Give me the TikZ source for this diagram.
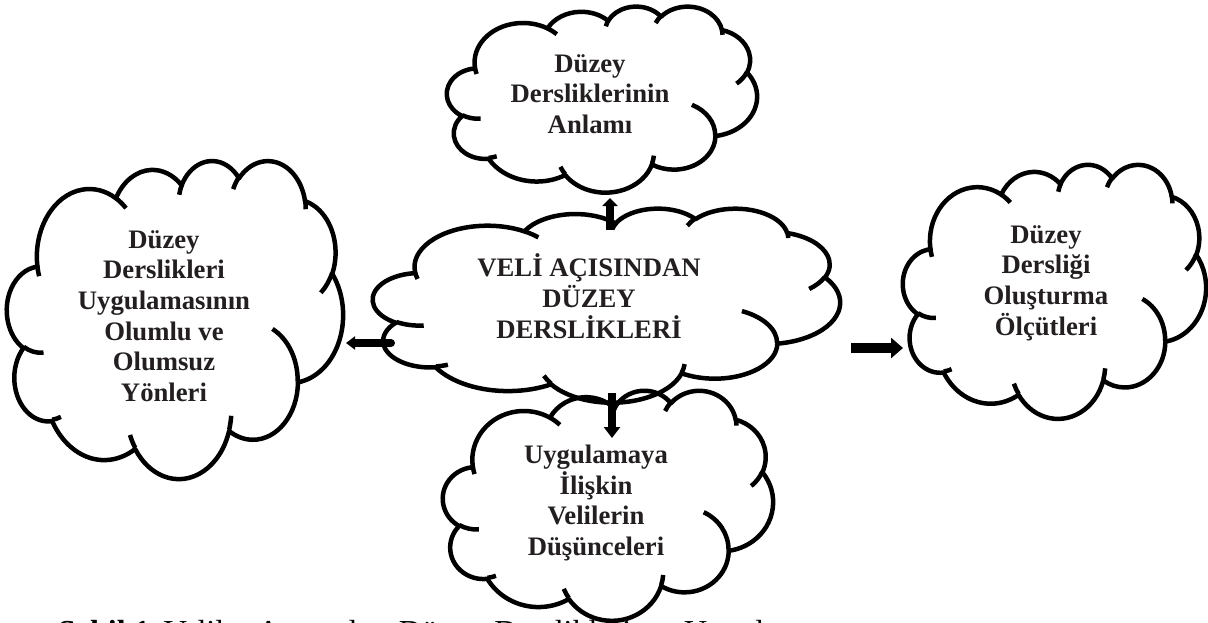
\documentclass[tikz,border=0pt]{standalone}
\usepackage{fontspec}
\setmainfont{Liberation Serif}
\usetikzlibrary{arrows.meta}
\definecolor{txt}{RGB}{35,31,32}

% arcTo of an Office cloud: x radius, y radius, visual start angle, visual sweep
\newcommand\cloudarc[4]{arc[x radius=#1, y radius=#2,
  start angle={atan2((#1)*sin(#3),(#2)*cos(#3))},
  delta angle={mod(atan2((#1)*sin((#3)+(#4)),(#2)*cos((#3)+(#4)))-atan2((#1)*sin(#3),(#2)*cos(#3))+720,360)}]}

% Office cloud in a box x0 y0 x1 y1 (picture pixels, y downwards)
\newcommand\officecloud[5]{%
  \pgfmathsetmacro\cwx{((#4)-(#2))/432}%
  \pgfmathsetmacro\cwy{((#5)-(#3))/432}%
  \begin{scope}[xshift=#2pt, yshift=-#3pt, x=\cwx pt, y=-\cwy pt]
    \coordinate (#1) at (216,216);
    \draw[cloudline] (39.00,143.70)
      \cloudarc{67.53}{91.90}{-190.4875}{123.7805}
      \cloudarc{53.33}{72.67}{-144.1024}{89.9452}
      \cloudarc{43.65}{59.45}{-145.8079}{99.7230}
      \cloudarc{48.57}{65.95}{-130.9861}{117.2417}
      \cloudarc{53.33}{72.73}{-78.7089}{109.0269}
      \cloudarc{67.75}{92.20}{-46.2673}{130.2690}
      \cloudarc{57.85}{78.67}{0.6250}{114.0333}
      \cloudarc{67.52}{92.15}{22.4516}{115.1726}
      \cloudarc{77.20}{105.43}{66.2426}{75.7110}
      \cloudarc{43.60}{59.18}{-274.9421}{146.7356}
      \cloudarc{43.45}{59.45}{-246.8285}{152.5189}
      -- cycle;
    \draw[cloudline]
      (46.93,261.77) \cloudarc{43.45}{59.45}{86.742}{26.4295}
      (69.28,348.99) \cloudarc{43.60}{59.18}{73.6105}{11.4475}
      (164.78,390.90) \cloudarc{67.52}{92.15}{137.6242}{14.0811}
      (288.27,347.51) \cloudarc{67.52}{92.15}{6.4533}{15.9984}
      (341.29,229.54) \cloudarc{57.85}{78.67}{-70.2924}{70.9174}
      (417.98,153.54) \cloudarc{53.33}{72.73}{30.3180}{27.7515}
      (383.24,54.26) \cloudarc{48.57}{65.95}{-13.7443}{14.8589}
      (290.78,39.52) \cloudarc{48.57}{65.95}{-149.1815}{18.1954}
      (221.41,47.20) \cloudarc{43.65}{59.45}{-163.4943}{17.6864}
      (140.00,51.92) \cloudarc{67.53}{91.90}{-66.7070}{12.3194}
      (41.27,157.89) \cloudarc{67.53}{91.90}{157.6544}{11.8582};
  \end{scope}%
}

\tikzset{
  cloudline/.style={line width=4.5pt, line join=round, draw=black},
  cloudtext/.style={font=\fontsize{26.7}{30.7}\selectfont\bfseries, align=center, text=txt, inner sep=0pt},
  captiontext/.style={font=\fontsize{32}{38}\selectfont, text=black, inner sep=0pt, anchor=base west},
  blockarrow/.style={draw=black, line cap=butt}
}

\begin{document}
\begin{tikzpicture}[x=1pt, y=-1pt]
\useasboundingbox (0,0) rectangle (1208,622);
\clip (0,0) rectangle (1208,622);

% clouds
\officecloud{cTop}{447}{6}{757}{192}
\officecloud{cCenter}{373}{208}{840}{402}
\officecloud{cLeft}{7}{160}{343}{478}
\officecloud{cRight}{903}{164}{1206}{418}
\officecloud{cBottom}{443}{390}{773}{620}

% texts
\node[cloudtext] (tTop) at (590,94) {Düzey\\Dersliklerinin\\Anlamı};
\node[cloudtext] (tCenter) at (589,296) {VELİ AÇISINDAN\\DÜZEY\\DERSLİKLERİ};
\node[cloudtext] (tLeft) at (164,316) {Düzey\\Derslikleri\\Uygulamasının\\Olumlu ve\\Olumsuz\\Yönleri};
\node[cloudtext] (tRight) at (1046,283) {Düzey\\Dersliği\\Oluşturma\\Ölçütleri};
\node[cloudtext] (tBottom) at (596,503) {Uygulamaya\\İlişkin\\Velilerin\\Düşünceleri};

% arrow end points
\coordinate (upS) at (610,230);
\coordinate (upE) at (610,198);
\coordinate (leS) at (391,343);
\coordinate (leE) at (346,343);
\coordinate (riS) at (851,348);
\coordinate (riE) at (903,348);
\coordinate (doS) at (612,393);
\coordinate (doE) at (612,438);

\draw[blockarrow, line width=8pt, -{Triangle[width=15pt,length=8pt]}] (upS) -- (upE);
\draw[blockarrow, line width=8pt, line cap=round, -{Triangle[width=13pt,length=9pt]}] (leS) -- (leE);
\draw[blockarrow, line width=10pt, -{Triangle[width=20pt,length=12pt]}] (riS) -- (riE);
\draw[blockarrow, line width=8pt, -{Triangle[width=16pt,length=11pt]}] (doS) -- (doE);

% caption (cut by the lower edge)
\node[captiontext] (caption) at (58,642) {\textbf{Şekil 1.}\hspace{6pt}Veliler Açısından\hspace{4pt} Düzey\hspace{4pt} Derslikleri\hspace{45pt} Uygulaması};
\end{tikzpicture}
\end{document}
